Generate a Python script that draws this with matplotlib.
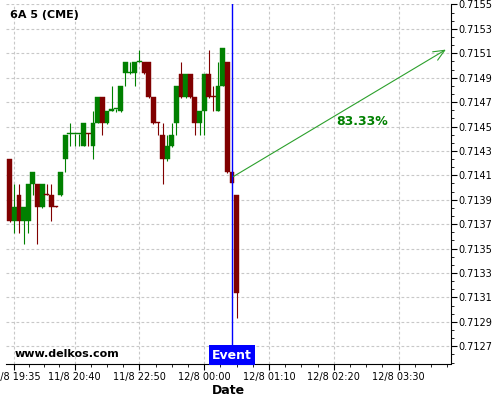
import matplotlib
matplotlib.use("Agg")
import matplotlib.pyplot as plt
from matplotlib.ticker import FixedLocator, AutoMinorLocator, FormatStrFormatter
import numpy as np

# candle OHLC, 5-minute bars, 6A (CME)
opens = [0.71423, 0.71373, 0.71394, 0.71373, 0.71373, 0.71403, 0.71403, 0.71384, 0.71395, 0.71394,
         0.71385, 0.71394, 0.71423, 0.71444, 0.71444, 0.71444, 0.71434, 0.71445, 0.71434, 0.71453,
         0.71474, 0.71453, 0.71463, 0.71464, 0.71463, 0.71494, 0.71494, 0.71494, 0.71503, 0.71503,
         0.71503, 0.71474, 0.71454, 0.71443, 0.71423, 0.71434, 0.71453, 0.71493, 0.71474, 0.71493,
         0.71474, 0.71453, 0.71463, 0.71493, 0.71475, 0.71463, 0.71483, 0.71503, 0.71413, 0.71394]
highs = [0.71423, 0.71403, 0.71403, 0.71384, 0.71403, 0.71413, 0.71403, 0.71403, 0.71403, 0.71403,
         0.71385, 0.71413, 0.71443, 0.71453, 0.71444, 0.71444, 0.71453, 0.71445, 0.71463, 0.71474,
         0.71474, 0.71463, 0.71483, 0.71464, 0.71483, 0.71503, 0.71503, 0.71503, 0.71513, 0.71503,
         0.71503, 0.71474, 0.71454, 0.71453, 0.71443, 0.71453, 0.71483, 0.71503, 0.71493, 0.71493,
         0.71474, 0.71463, 0.71493, 0.71513, 0.71483, 0.71503, 0.71514, 0.71503, 0.71413, 0.71394]
lows = [0.71372, 0.71363, 0.71363, 0.71354, 0.71363, 0.71394, 0.71354, 0.71383, 0.71394, 0.71373,
        0.71384, 0.71393, 0.71413, 0.71434, 0.71434, 0.71434, 0.71434, 0.71434, 0.71423, 0.71453,
        0.71443, 0.71452, 0.71463, 0.71462, 0.71462, 0.71483, 0.71493, 0.71483, 0.71503, 0.71493,
        0.71473, 0.71452, 0.71443, 0.71403, 0.71422, 0.71433, 0.71443, 0.71473, 0.71473, 0.71473,
        0.71443, 0.71443, 0.71443, 0.71473, 0.71463, 0.71463, 0.71483, 0.71412, 0.71403, 0.71293]
closes = [0.71373, 0.71384, 0.71373, 0.71384, 0.71403, 0.71413, 0.71384, 0.71403, 0.71394, 0.71384,
          0.71384, 0.71413, 0.71443, 0.71444, 0.71444, 0.71444, 0.71453, 0.71444, 0.71453, 0.71474,
          0.71453, 0.71463, 0.71464, 0.71464, 0.71483, 0.71503, 0.71494, 0.71503, 0.71504, 0.71494,
          0.71474, 0.71453, 0.71453, 0.71423, 0.71434, 0.71443, 0.71483, 0.71474, 0.71493, 0.71474,
          0.71453, 0.71463, 0.71493, 0.71474, 0.71474, 0.71483, 0.71514, 0.71413, 0.71404, 0.71314]

tick_pos = [1, 14, 28, 42, 56, 70, 84]
tick_labels = ["11/8 19:35", "11/8 20:40", "11/8 22:50", "12/8 00:00",
               "12/8 01:10", "12/8 02:20", "12/8 03:30"]
price_ticks = [0.7127, 0.7129, 0.7131, 0.7133, 0.7135, 0.7137, 0.7139,
               0.7141, 0.7143, 0.7145, 0.7147, 0.7149, 0.7151, 0.7153, 0.7155]

event_idx = 48
target_idx = 94.2
target_price = 0.71513
start_price = 0.71409
prob_label = "83.33%"

RED = "#800000"
GREEN = "#008000"

fig = plt.figure(figsize=(5, 4), dpi=100)
ax = fig.add_axes([0.012, 0.09, 0.889, 0.899])

x = np.arange(len(opens))
o = np.array(opens)
c = np.array(closes)
colors = [GREEN if cc >= oo else RED for oo, cc in zip(o, c)]

ax.vlines(x, lows, highs, colors=colors, linewidth=0.8, zorder=2)
bottoms = np.minimum(o, c)
heights = np.maximum(np.abs(c - o), 0.000008)
ax.bar(x, heights, bottom=bottoms, width=1.05, color=colors, edgecolor=colors,
       linewidth=0.3, zorder=3)

# event marker
ax.axvline(event_idx, color="blue", linewidth=1, zorder=4)
ax.text(event_idx, 0.712575, "Event", color="white", fontsize=9, fontweight="bold",
        ha="center", va="bottom", zorder=5,
        bbox=dict(boxstyle="square,pad=0.28", facecolor="blue", edgecolor="none"))

# forecast arrow
ax.annotate("", xy=(target_idx, target_price), xytext=(event_idx + 0.3, start_price),
            arrowprops=dict(arrowstyle="->,head_length=0.8,head_width=0.35",
                            color="#2ca02c", linewidth=0.8, shrinkA=0, shrinkB=0),
            zorder=5)
ax.text(76.1, 0.714542, prob_label, color=GREEN, fontsize=9, fontweight="bold",
        ha="center", va="center")

ax.set_xlim(-0.8, 95.2)
ax.set_ylim(0.712555, 0.71550)

ax.xaxis.set_major_locator(FixedLocator(tick_pos))
ax.set_xticklabels(tick_labels)
minor = list(np.arange(1, 14, 3.25)) + list(np.arange(14, 95, 3.5))
ax.xaxis.set_minor_locator(FixedLocator(minor))

ax.yaxis.tick_right()
ax.yaxis.set_major_locator(FixedLocator(price_ticks))
ax.yaxis.set_minor_locator(AutoMinorLocator(3))
ax.yaxis.set_major_formatter(FormatStrFormatter("%.4f"))

ax.tick_params(axis="both", which="major", labelsize=7, length=4, width=0.8, pad=2)
ax.tick_params(axis="both", which="minor", length=2, width=0.6)

ax.grid(True, which="major", color="#c8c8c8", linestyle=(0, (2.5, 2)), linewidth=0.8)
ax.set_axisbelow(True)

ax.spines["left"].set_visible(False)
ax.spines["top"].set_visible(False)

ax.set_xlabel("Date", fontsize=9, fontweight="bold", labelpad=1)

fig.text(0.02, 0.962, "6A 5 (CME)", fontsize=8, fontweight="bold", va="center")
fig.text(0.03, 0.115, "www.delkos.com", fontsize=8, fontweight="bold", va="center")

fig.savefig("out.png", dpi=100)
